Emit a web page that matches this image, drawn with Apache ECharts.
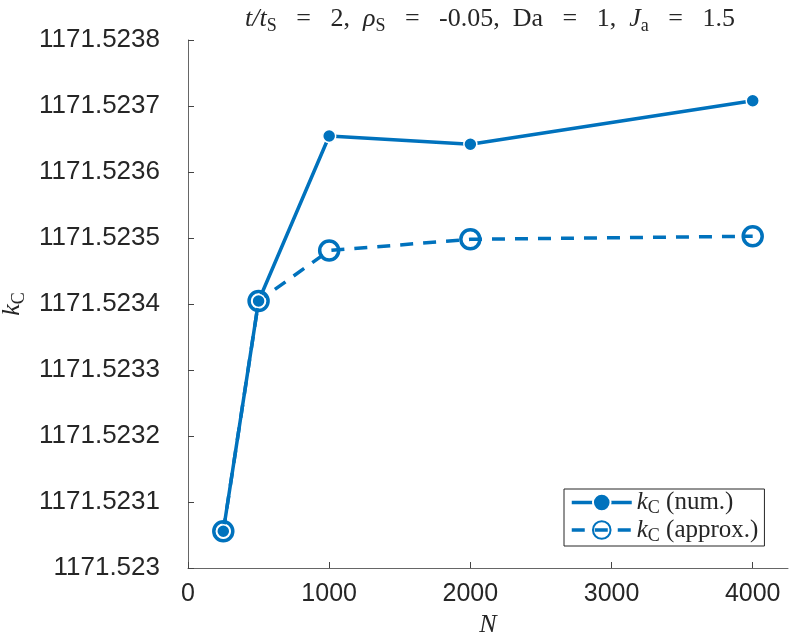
<!DOCTYPE html>
<html>
<head>
<meta charset="utf-8">
<script src="https://cdn.jsdelivr.net/npm/echarts@6/dist/echarts.min.js"></script>
<style>
    html, body { margin: 0; padding: 0; background: #fff; }
    #chart { width: 790px; height: 638px; }
</style>
</head>
<body>
<div id="chart"></div>
<script>
// N values (x axis)
const nValues = [250, 500, 1000, 2000, 4000]
// k_c, numerical
const kcNum = [1171.5230556, 1171.5234045, 1171.5236545, 1171.523642, 1171.523708]
// k_c, approximation
const kcApprox = [1171.5230556, 1171.5234045, 1171.523481, 1171.523498, 1171.5235026]
// tick labels
const xTicks = [0, 1000, 2000, 3000, 4000]
const yTicks = [1171.523, 1171.5231, 1171.5232, 1171.5233, 1171.5234, 1171.5235, 1171.5236, 1171.5237, 1171.5238]
const yTickLabels = ['1171.523', '1171.5231', '1171.5232', '1171.5233', '1171.5234', '1171.5235', '1171.5236', '1171.5237', '1171.5238']

const blue = '#0072BD'
const serif = 'Liberation Serif'
const sans = 'Liberation Sans'

// 上下标用的富文本样式
const rich = (size, lh) => ({
    i: { fontFamily: serif, fontStyle: 'italic', fontWeight: 'normal', fontSize: size, color: '#262626', verticalAlign: 'middle', lineHeight: lh || size + 6 },
    r: { fontFamily: serif, fontWeight: 'normal', fontSize: size, color: '#262626', verticalAlign: 'middle', lineHeight: lh || size + 6 },
    s: { fontFamily: serif, fontWeight: 'normal', fontSize: Math.round(size * 0.7), color: '#262626', verticalAlign: 'bottom', lineHeight: (lh || size + 6) - 4 }
})

const chart = echarts.init(document.getElementById('chart'))

const option = {
    animation: false,
    backgroundColor: '#fff',
    title: {
        text: '{i|t/t}{s|S}{r|   =   2,  }{i|ρ}{s|S}{r|   =   -0.05,  Da   =   1,  }{i|J}{s|a}{r|   =   1.5}',
        left: 485,
        top: -2,
        textAlign: 'center',
        textStyle: { fontWeight: 'normal', rich: rich(26) }
    },
    grid: {
        left: 188,
        top: 40,
        right: 2,
        bottom: 70,
        outerBoundsMode: 'none'
    },
    legend: {
        orient: 'vertical',
        left: 564,
        top: 489,
        padding: [1, 6, 1, 6],
        itemGap: 0,
        itemWidth: 60,
        itemHeight: 22,
        backgroundColor: '#fff',
        borderColor: '#262626',
        borderWidth: 1,
        lineStyle: { width: 3.5 },
        data: ['num', 'approx'],
        formatter: (name) => name === 'num' ? '{i|k}{s|C}{r| (num.)}' : '{i|k}{s|C}{r| (approx.)}',
        textStyle: { rich: rich(25, 30) }
    },
    xAxis: {
        type: 'value',
        min: 0,
        max: 4250,
        name: 'N',
        nameLocation: 'middle',
        nameGap: 44,
        nameTextStyle: { fontFamily: serif, fontStyle: 'italic', fontSize: 26, color: '#262626' },
        splitLine: { show: false },
        axisLine: { lineStyle: { color: '#666', width: 1 } },
        axisTick: { inside: true, length: 6, customValues: xTicks, lineStyle: { color: '#444' } },
        axisLabel: {
            customValues: xTicks,
            fontFamily: sans,
            fontSize: 25,
            color: '#262626',
            margin: 14,
            formatter: (v) => String(Math.round(v))
        }
    },
    yAxis: {
        type: 'value',
        min: yTicks[0],
        max: yTicks[yTicks.length - 1],
        name: '{i|k}{s|C}',
        nameLocation: 'middle',
        nameGap: 160,
        nameTextStyle: { rich: rich(26) },
        splitLine: { show: false },
        axisLine: { show: true, lineStyle: { color: '#666', width: 1 } },
        axisTick: { show: true, inside: true, length: 6, customValues: yTicks, lineStyle: { color: '#444' } },
        axisLabel: {
            customValues: yTicks,
            fontFamily: sans,
            fontSize: 26,
            color: '#262626',
            margin: 28,
            formatter: (v) => {
                const i = yTicks.findIndex((t) => Math.abs(t - v) < 1e-7)
                return i >= 0 ? yTickLabels[i] : ''
            }
        }
    },
    series: [
        {
            name: 'approx',
            type: 'line',
            data: nValues.map((n, i) => [n, kcApprox[i]]),
            symbol: 'circle',
            symbolSize: 19,
            lineStyle: { color: blue, width: 3.5, type: [13, 10] },
            itemStyle: { color: 'rgba(0,0,0,0)', borderColor: blue, borderWidth: 3.5 },
            z: 2
        },
        {
            name: 'num',
            type: 'line',
            data: nValues.map((n, i) => [n, kcNum[i]]),
            symbol: 'circle',
            symbolSize: 13,
            lineStyle: { color: blue, width: 3.5 },
            itemStyle: { color: blue, borderColor: '#fff', borderWidth: 1.5 },
            z: 3
        }
    ]
}

chart.setOption(option)
</script>
</body>
</html>
